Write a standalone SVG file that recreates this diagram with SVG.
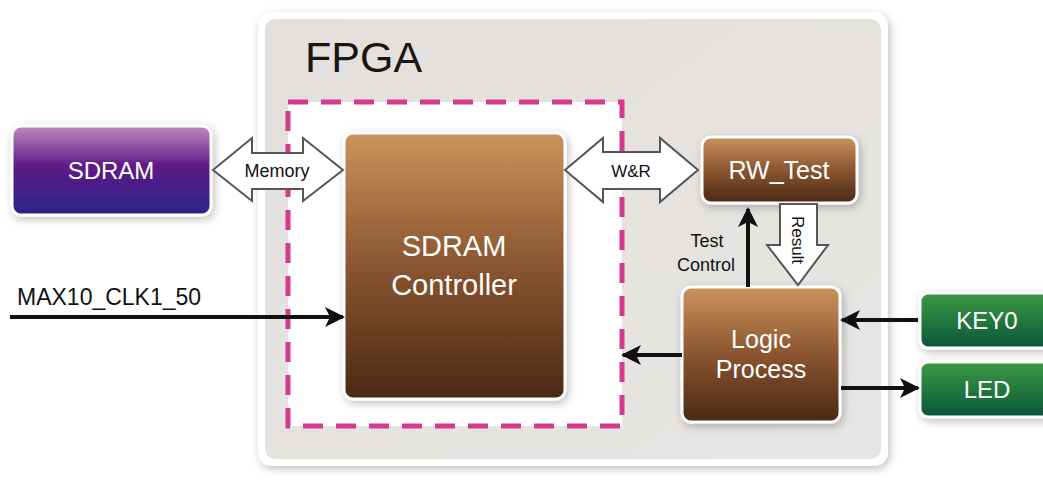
<svg xmlns="http://www.w3.org/2000/svg" width="1043" height="491" viewBox="0 0 1043 491">
<defs>
<linearGradient id="gBrown" x1="0" y1="0" x2="0" y2="1">
<stop offset="0" stop-color="#cb935c"/><stop offset="0.5" stop-color="#8a5530"/><stop offset="1" stop-color="#4a2814"/>
</linearGradient>
<linearGradient id="gPurple" x1="0" y1="0" x2="0" y2="1">
<stop offset="0" stop-color="#c08abf"/><stop offset="0.45" stop-color="#5e1a86"/><stop offset="1" stop-color="#28258a"/>
</linearGradient>
<linearGradient id="gGreen" x1="0" y1="0" x2="0" y2="1">
<stop offset="0" stop-color="#3b9a44"/><stop offset="1" stop-color="#0a5638"/>
</linearGradient>
<linearGradient id="gGray" x1="0" y1="0" x2="1" y2="1">
<stop offset="0" stop-color="#e2dfdc"/><stop offset="1" stop-color="#e8e6e4"/>
</linearGradient>
<filter id="sh" x="-20%" y="-20%" width="140%" height="140%">
<feDropShadow dx="2" dy="3" stdDeviation="4" flood-color="#000" flood-opacity="0.25"/>
</filter>
<marker id="ah" viewBox="0 0 20 20" refX="18" refY="10" markerWidth="20" markerHeight="20" markerUnits="userSpaceOnUse" orient="auto">
<path d="M0,0 L20,10 L0,20 L5,10 Z" fill="#111"/>
</marker>
<style>
.box{stroke:#fff;stroke-width:3;filter:url(#sh)}
.lbl{font-family:"Liberation Sans",Arial,sans-serif;fill:#fff;text-anchor:middle}
.blk{font-family:"Liberation Sans",Arial,sans-serif;fill:#111;text-anchor:middle}
.wire{stroke:#111;stroke-width:4;fill:none;marker-end:url(#ah)}
.hollow{fill:#fff;stroke:#555;stroke-width:2}
</style>
</defs>
<rect width="1043" height="491" fill="#fff"/>
<g id="fpga">
<rect x="258" y="12" width="630" height="454" rx="14" fill="#fff" filter="url(#sh)"/>
<rect x="265" y="19" width="616" height="440" rx="10" fill="url(#gGray)"/>
<text x="305" y="72" font-family="Liberation Sans,Arial,sans-serif" font-size="43" fill="#1a1414">FPGA</text>
<rect x="288" y="102" width="334" height="324" fill="#fff" stroke="#d63a8e" stroke-width="5" stroke-dasharray="20 13"/>
</g>
<g id="sdram">
<rect class="box" x="12" y="126" width="199" height="89" rx="9" fill="url(#gPurple)"/>
<text class="lbl" x="111" y="179" font-size="24">SDRAM</text>
</g>
<g id="controller">
<rect class="box" x="344" y="133" width="221" height="266" rx="9" fill="url(#gBrown)"/>
<text class="lbl" x="454" y="256" font-size="29">SDRAM</text>
<text class="lbl" x="454" y="295" font-size="29">Controller</text>
</g>
<g id="rwtest">
<rect class="box" x="702" y="137" width="155" height="66" rx="9" fill="url(#gBrown)"/>
<text class="lbl" x="779" y="179" font-size="25">RW_Test</text>
</g>
<g id="logic">
<rect class="box" x="682" y="287" width="158" height="135" rx="9" fill="url(#gBrown)"/>
<text class="lbl" x="761" y="348" font-size="25">Logic</text>
<text class="lbl" x="761" y="378" font-size="25">Process</text>
</g>
<g id="key0">
<rect class="box" x="920" y="293" width="135" height="55" rx="8" fill="url(#gGreen)"/>
<text class="lbl" x="987" y="329" font-size="24">KEY0</text>
</g>
<g id="led">
<rect class="box" x="920" y="362" width="135" height="55" rx="8" fill="url(#gGreen)"/>
<text class="lbl" x="987" y="398" font-size="24">LED</text>
</g>
<g id="connectors">
<path class="hollow" d="M213,170 L252,138 L252,153 L303,153 L303,138 L343,170 L303,201 L303,189 L252,189 L252,201 Z"/>
<text class="blk" x="277" y="177" font-size="18">Memory</text>
<path class="hollow" d="M565,170 L603,138 L603,152 L660,152 L660,138 L698,170 L660,202 L660,189 L603,189 L603,202 Z"/>
<text class="blk" x="631" y="177" font-size="17">W&amp;R</text>
<path class="hollow" d="M780,204 L817,204 L817,245 L828,245 L798,285 L767,245 L780,245 Z"/>
<text class="blk" x="0" y="0" font-size="17" transform="translate(792,240) rotate(90)">Result</text>
<line class="wire" x1="748" y1="287" x2="748" y2="209"/>
<text class="blk" x="707" y="247" font-size="18">Test</text>
<text class="blk" x="706" y="271" font-size="18">Control</text>
<line class="wire" x1="682" y1="355" x2="623" y2="355"/>
<line class="wire" x1="918" y1="320" x2="842" y2="320"/>
<line class="wire" x1="841" y1="388" x2="918" y2="388"/>
<line class="wire" x1="10" y1="317" x2="343" y2="317"/>
<text x="17" y="305" font-family="Liberation Sans,Arial,sans-serif" font-size="23" fill="#111">MAX10_CLK1_50</text>
</g>
</svg>
